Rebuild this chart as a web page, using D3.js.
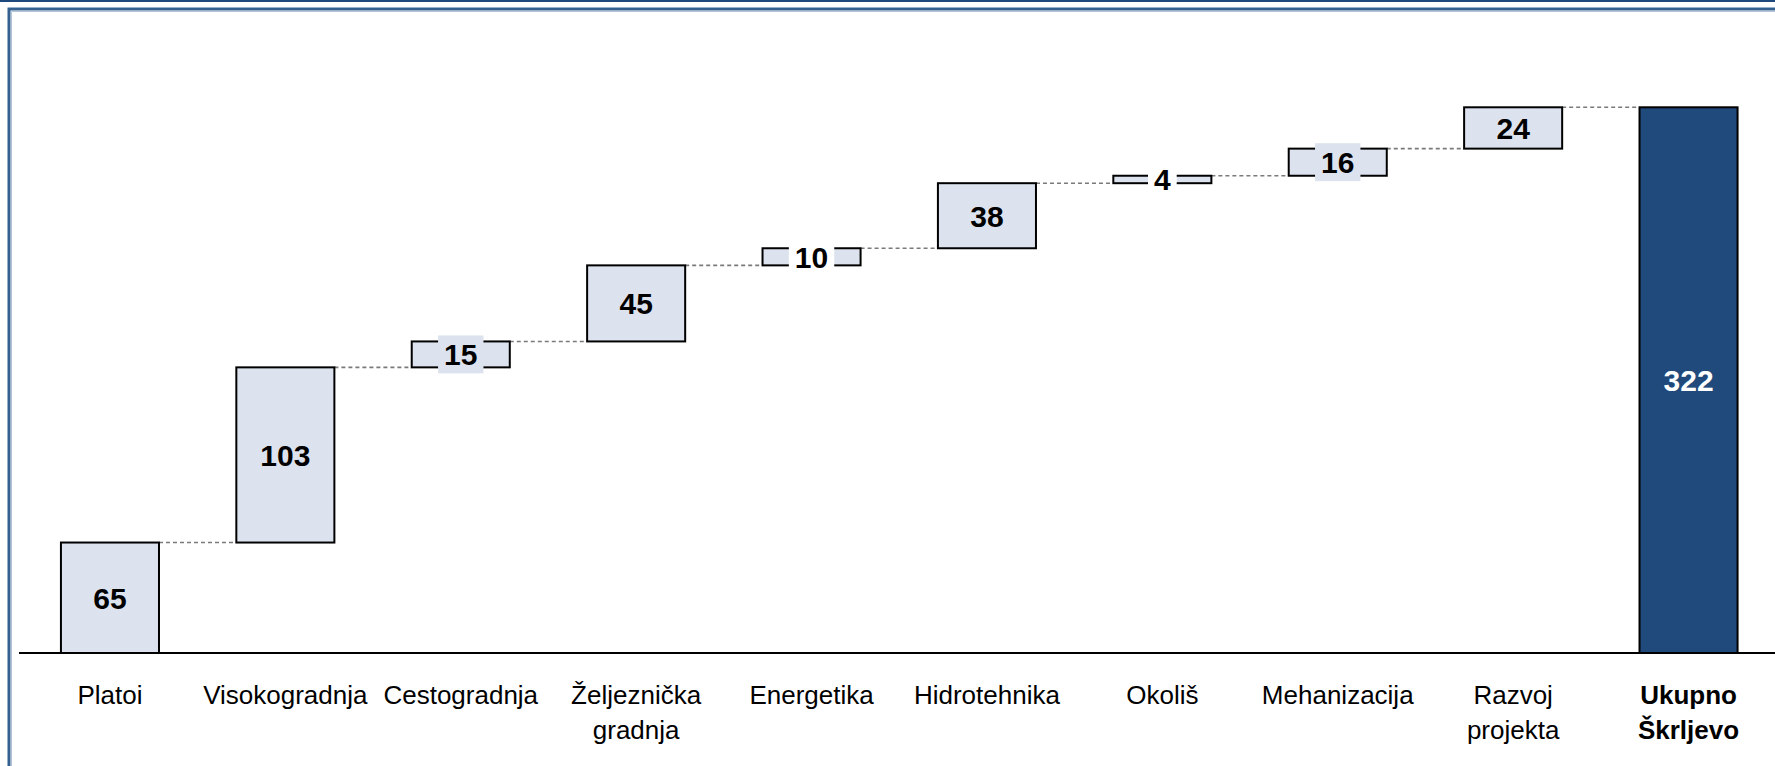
<!DOCTYPE html>
<html>
<head>
<meta charset="utf-8">
<script src="https://cdn.jsdelivr.net/npm/d3@7"></script>
<style>
  body { margin: 0; background: #ffffff; }
  svg { display: block; }
</style>
</head>
<body>
<div id="chart"></div>
<script>
// data
var categories = ["Platoi", "Visokogradnja", "Cestogradnja", "Željeznička gradnja", "Energetika",
  "Hidrotehnika", "Okoliš", "Mehanizacija", "Razvoj projekta", "Ukupno Škrljevo"];
var labelLines = [["Platoi"], ["Visokogradnja"], ["Cestogradnja"], ["Željeznička", "gradnja"], ["Energetika"],
  ["Hidrotehnika"], ["Okoliš"], ["Mehanizacija"], ["Razvoj", "projekta"], ["Ukupno", "Škrljevo"]];
var values = [65.2, 103.4, 15.3, 44.9, 10.1, 38.4, 4.4, 16.0, 24.4];
var totalLabel = "Ukupno Škrljevo";

/********************************************************/
var svgWidth = 1775;
var svgHeight = 766;
var baseY = 653;

var svg = d3.select("#chart")
  .append("svg")
  .attr("width", svgWidth)
  .attr("height", svgHeight);

// frame
svg.append("line")
  .attr("x1", 0).attr("x2", svgWidth)
  .attr("y1", 1).attr("y2", 1)
  .attr("stroke", "#1f497d")
  .attr("stroke-width", 2);

svg.append("path")
  .attr("d", `M9,${svgHeight + 5}V9H${svgWidth + 5}`)
  .attr("fill", "none")
  .attr("stroke", "#34608f")
  .attr("stroke-width", 3);

svg.append("path")
  .attr("d", `M11.5,${svgHeight + 5}V11.5H${svgWidth + 5}`)
  .attr("fill", "none")
  .attr("stroke", "#b4c4d8")
  .attr("stroke-width", 1);

/********************************************************/
// waterfall rows
var rows = [];
var running = 0;
values.forEach(function (v, i) {
  rows.push({ name: categories[i], lines: labelLines[i], start: running, end: running + v, value: v, total: false });
  running += v;
});
rows.push({ name: totalLabel, lines: labelLines[9], start: 0, end: running, value: running, total: true });

var xScale = d3.scaleBand()
  .domain(categories)
  .range([22, 1776.5])
  .paddingInner(0.441)
  .paddingOuter(0.222);

var yScale = d3.scaleLinear()
  .domain([0, 360])
  .range([baseY, baseY - 360 * 1.6942]);

var bw = xScale.bandwidth();

// dashed connectors
svg.selectAll(".connector")
  .data(rows.slice(0, rows.length - 1))
  .enter()
  .append("line")
  .attr("class", "connector")
  .attr("x1", d => xScale(d.name) + bw)
  .attr("x2", (d, i) => xScale(rows[i + 1].name))
  .attr("y1", d => yScale(d.end))
  .attr("y2", d => yScale(d.end))
  .attr("stroke", "#7a7a7a")
  .attr("stroke-width", 1.6)
  .attr("stroke-dasharray", "4,3");

// bars
svg.selectAll(".bar")
  .data(rows)
  .enter()
  .append("rect")
  .attr("class", "bar")
  .attr("x", d => xScale(d.name))
  .attr("y", d => yScale(d.end))
  .attr("width", bw)
  .attr("height", d => yScale(d.start) - yScale(d.end))
  .attr("fill", d => d.total ? "#214a7c" : "#dde3ee")
  .attr("stroke", "#000000")
  .attr("stroke-width", 2);

// axis line
svg.append("line")
  .attr("x1", 19).attr("x2", svgWidth)
  .attr("y1", baseY).attr("y2", baseY)
  .attr("stroke", "#000000")
  .attr("stroke-width", 2);

/********************************************************/
// value labels with a small box behind them
var labelGroup = svg.selectAll(".valueLabel")
  .data(rows)
  .enter()
  .append("g")
  .attr("class", "valueLabel")
  .attr("transform", d => `translate(${xScale(d.name) + bw / 2}, ${(yScale(d.start) + yScale(d.end)) / 2})`);

labelGroup.append("rect")
  .attr("x", d => -(String(Math.round(d.value)).length * 16.7 + 12) / 2)
  .attr("y", -19)
  .attr("width", d => String(Math.round(d.value)).length * 16.7 + 12)
  .attr("height", 38)
  .attr("fill", d => d.total ? "#214a7c" : (d.value < 12 ? "#ffffff" : "#dde3ee"));

labelGroup.append("text")
  .attr("text-anchor", "middle")
  .attr("dy", "0.36em")
  .attr("font-family", "Liberation Sans, Arial, sans-serif")
  .attr("font-size", "30px")
  .attr("font-weight", "bold")
  .attr("fill", d => d.total ? "#ffffff" : "#000000")
  .text(d => Math.round(d.value));

// category labels
var catText = svg.selectAll(".catLabel")
  .data(rows)
  .enter()
  .append("text")
  .attr("class", "catLabel")
  .attr("text-anchor", "middle")
  .attr("font-family", "Liberation Sans, Arial, sans-serif")
  .attr("font-size", "26px")
  .attr("font-weight", d => d.total ? "bold" : "normal")
  .attr("fill", "#000000");

catText.selectAll("tspan")
  .data(d => d.lines.map(l => ({ line: l, x: xScale(d.name) + bw / 2 })))
  .enter()
  .append("tspan")
  .attr("x", d => d.x)
  .attr("y", (d, i) => 704 + i * 35)
  .text(d => d.line);
</script>
</body>
</html>
